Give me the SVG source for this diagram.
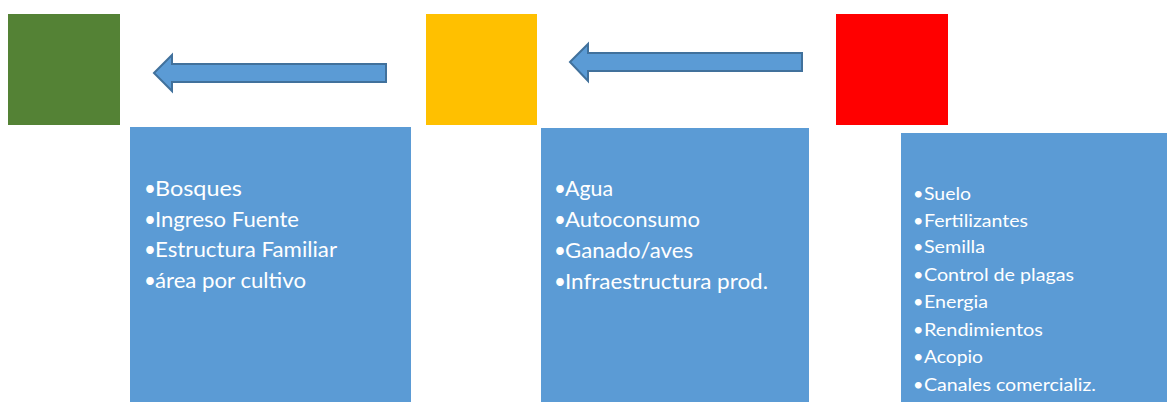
<svg xmlns="http://www.w3.org/2000/svg" width="1167" height="402" viewBox="0 0 1167 402">
<style>
.t{font-family:Lato,"Open Sans","Liberation Sans",sans-serif;fill:#fff}
.a{font-size:20.5px}
.b{font-size:18px}
.box{fill:#5B9BD5}
.arr{fill:#5B9BD5;stroke:#41719C;stroke-width:2}
</style>
<rect width="1167" height="402" fill="#fff"/>
<g id="green"><rect x="8" y="14" width="112" height="111" fill="#548235"/></g>
<g id="yellow"><rect x="426" y="14" width="111" height="111" fill="#FFC000"/></g>
<g id="red"><rect x="836" y="14" width="112" height="111" fill="#FF0000"/></g>
<g id="connectors">
<path class="arr" d="M154,73 L172,55 L172,64 L386,64 L386,82 L172,82 L172,91 Z"/>
<path class="arr" d="M570,62 L588,44 L588,53 L802,53 L802,71 L588,71 L588,81 Z"/>
</g>
<g id="box1">
<rect class="box" x="130" y="127" width="281" height="275"/>
<g class="t a">
<text x="144" y="196">•</text><text x="155" y="196" textLength="87" lengthAdjust="spacingAndGlyphs">Bosques</text>
<text x="144" y="227">•</text><text x="155" y="227" textLength="144" lengthAdjust="spacingAndGlyphs">Ingreso Fuente</text>
<text x="144" y="257">•</text><text x="155" y="257" textLength="182" lengthAdjust="spacingAndGlyphs">Estructura Familiar</text>
<text x="144" y="288">•</text><text x="155" y="288" textLength="151" lengthAdjust="spacingAndGlyphs">área por cultivo</text>
</g>
</g>
<g id="box2">
<rect class="box" x="541" y="128" width="268" height="274"/>
<g class="t a">
<text x="554" y="196">•</text><text x="565" y="196" textLength="48" lengthAdjust="spacingAndGlyphs">Agua</text>
<text x="554" y="227">•</text><text x="565" y="227" textLength="135" lengthAdjust="spacingAndGlyphs">Autoconsumo</text>
<text x="554" y="258">•</text><text x="565" y="258" textLength="128" lengthAdjust="spacingAndGlyphs">Ganado/aves</text>
<text x="554" y="289">•</text><text x="565" y="289" textLength="203" lengthAdjust="spacingAndGlyphs">Infraestructura prod.</text>
</g>
</g>
<g id="box3">
<rect class="box" x="901" y="133" width="266" height="269"/>
<g class="t b">
<text x="913" y="200">•</text><text x="924" y="200" textLength="47" lengthAdjust="spacingAndGlyphs">Suelo</text>
<text x="913" y="227">•</text><text x="924" y="227" textLength="104" lengthAdjust="spacingAndGlyphs">Fertilizantes</text>
<text x="913" y="253">•</text><text x="924" y="253" textLength="61" lengthAdjust="spacingAndGlyphs">Semilla</text>
<text x="913" y="281">•</text><text x="924" y="281" textLength="150" lengthAdjust="spacingAndGlyphs">Control de plagas</text>
<text x="913" y="308">•</text><text x="924" y="308" textLength="64" lengthAdjust="spacingAndGlyphs">Energia</text>
<text x="913" y="336">•</text><text x="924" y="336" textLength="119" lengthAdjust="spacingAndGlyphs">Rendimientos</text>
<text x="913" y="363">•</text><text x="924" y="363" textLength="59" lengthAdjust="spacingAndGlyphs">Acopio</text>
<text x="913" y="391">•</text><text x="924" y="391" textLength="172" lengthAdjust="spacingAndGlyphs">Canales comercializ.</text>
</g>
</g>
</svg>
